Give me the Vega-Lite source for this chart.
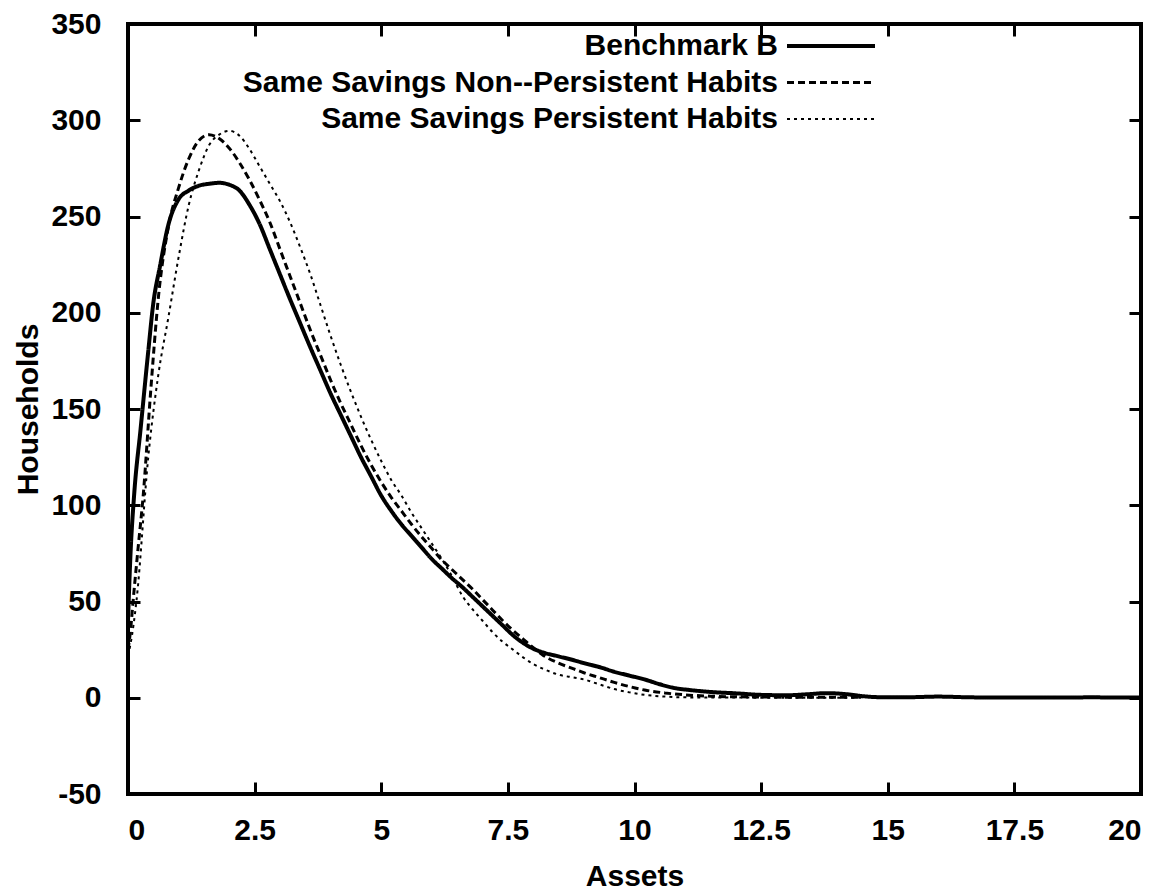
{
  "$schema": "https://vega.github.io/schema/vega-lite/v6.json",
  "width": 1013,
  "height": 770,
  "autosize": {"type": "none"},
  "padding": {"left": 128, "top": 24, "right": 26, "bottom": 100},
  "background": "white",
  "config": {
    "view": {"stroke": "black", "strokeWidth": 4},
    "font": "Liberation Sans",
    "axis": {
      "labelFont": "Liberation Sans", "labelFontWeight": "bold", "labelFontSize": 30, "labelColor": "black",
      "titleFont": "Liberation Sans", "titleFontWeight": "bold", "titleFontSize": 30, "titleColor": "black",
      "grid": false, "domain": false, "tickColor": "black", "tickWidth": 3, "tickSize": 12, "offset": -12, "zindex": 1
    }
  },
  "datasets": {
    "curves": [
      {"series":"Benchmark B","assets":0,"households":40},{"series":"Benchmark B","assets":0.05,"households":75},{"series":"Benchmark B","assets":0.12,"households":105},{"series":"Benchmark B","assets":0.25,"households":140},{"series":"Benchmark B","assets":0.4,"households":180},{"series":"Benchmark B","assets":0.5,"households":205},{"series":"Benchmark B","assets":0.63,"households":224},{"series":"Benchmark B","assets":0.8,"households":246},{"series":"Benchmark B","assets":1.0,"households":259},{"series":"Benchmark B","assets":1.2,"households":263.5},{"series":"Benchmark B","assets":1.4,"households":266},{"series":"Benchmark B","assets":1.6,"households":267},{"series":"Benchmark B","assets":1.8,"households":267.5},{"series":"Benchmark B","assets":2.0,"households":266.5},{"series":"Benchmark B","assets":2.2,"households":263.5},{"series":"Benchmark B","assets":2.4,"households":256},{"series":"Benchmark B","assets":2.6,"households":246},{"series":"Benchmark B","assets":2.8,"households":233},{"series":"Benchmark B","assets":3.0,"households":220},{"series":"Benchmark B","assets":3.2,"households":207},{"series":"Benchmark B","assets":3.4,"households":194.5},{"series":"Benchmark B","assets":3.6,"households":182},{"series":"Benchmark B","assets":3.8,"households":170},{"series":"Benchmark B","assets":4.0,"households":158},{"series":"Benchmark B","assets":4.2,"households":147},{"series":"Benchmark B","assets":4.4,"households":136},{"series":"Benchmark B","assets":4.6,"households":125},{"series":"Benchmark B","assets":4.8,"households":115},{"series":"Benchmark B","assets":5.0,"households":105},{"series":"Benchmark B","assets":5.2,"households":97},{"series":"Benchmark B","assets":5.4,"households":90},{"series":"Benchmark B","assets":5.6,"households":84},{"series":"Benchmark B","assets":5.8,"households":78},{"series":"Benchmark B","assets":6.0,"households":72},{"series":"Benchmark B","assets":6.2,"households":67},{"series":"Benchmark B","assets":6.4,"households":62},{"series":"Benchmark B","assets":6.6,"households":57.5},{"series":"Benchmark B","assets":6.8,"households":52.5},{"series":"Benchmark B","assets":7.0,"households":47.5},{"series":"Benchmark B","assets":7.2,"households":42.5},{"series":"Benchmark B","assets":7.4,"households":37.5},{"series":"Benchmark B","assets":7.6,"households":32.5},{"series":"Benchmark B","assets":7.8,"households":28.5},{"series":"Benchmark B","assets":8.0,"households":25.5},{"series":"Benchmark B","assets":8.2,"households":23.5},{"series":"Benchmark B","assets":8.5,"households":21.5},{"series":"Benchmark B","assets":8.8,"households":19.5},{"series":"Benchmark B","assets":9.0,"households":18},{"series":"Benchmark B","assets":9.3,"households":16},{"series":"Benchmark B","assets":9.6,"households":13.5},{"series":"Benchmark B","assets":9.9,"households":11.5},{"series":"Benchmark B","assets":10.2,"households":9.5},{"series":"Benchmark B","assets":10.5,"households":7},{"series":"Benchmark B","assets":10.8,"households":5},{"series":"Benchmark B","assets":11.1,"households":4},{"series":"Benchmark B","assets":11.5,"households":3},{"series":"Benchmark B","assets":12.0,"households":2.3},{"series":"Benchmark B","assets":12.5,"households":1.5},{"series":"Benchmark B","assets":13.0,"households":1.3},{"series":"Benchmark B","assets":13.4,"households":1.8},{"series":"Benchmark B","assets":13.8,"households":2.4},{"series":"Benchmark B","assets":14.2,"households":1.8},{"series":"Benchmark B","assets":14.6,"households":0.6},{"series":"Benchmark B","assets":15.0,"households":0.2},{"series":"Benchmark B","assets":15.5,"households":0.3},{"series":"Benchmark B","assets":16.0,"households":0.6},{"series":"Benchmark B","assets":16.5,"households":0.3},{"series":"Benchmark B","assets":17.0,"households":0.1},{"series":"Benchmark B","assets":18.0,"households":0.1},{"series":"Benchmark B","assets":19.0,"households":0.2},{"series":"Benchmark B","assets":20.0,"households":0.1},
      {"series":"Same Savings Non--Persistent Habits","assets":0,"households":25},{"series":"Same Savings Non--Persistent Habits","assets":0.05,"households":35},{"series":"Same Savings Non--Persistent Habits","assets":0.1,"households":50},{"series":"Same Savings Non--Persistent Habits","assets":0.2,"households":78},{"series":"Same Savings Non--Persistent Habits","assets":0.3,"households":105},{"series":"Same Savings Non--Persistent Habits","assets":0.45,"households":160},{"series":"Same Savings Non--Persistent Habits","assets":0.6,"households":208},{"series":"Same Savings Non--Persistent Habits","assets":0.8,"households":245},{"series":"Same Savings Non--Persistent Habits","assets":1.0,"households":265},{"series":"Same Savings Non--Persistent Habits","assets":1.2,"households":280},{"series":"Same Savings Non--Persistent Habits","assets":1.4,"households":289.5},{"series":"Same Savings Non--Persistent Habits","assets":1.6,"households":292.5},{"series":"Same Savings Non--Persistent Habits","assets":1.8,"households":290.5},{"series":"Same Savings Non--Persistent Habits","assets":2.0,"households":285.5},{"series":"Same Savings Non--Persistent Habits","assets":2.2,"households":278},{"series":"Same Savings Non--Persistent Habits","assets":2.4,"households":269},{"series":"Same Savings Non--Persistent Habits","assets":2.6,"households":258.5},{"series":"Same Savings Non--Persistent Habits","assets":2.8,"households":247},{"series":"Same Savings Non--Persistent Habits","assets":3.0,"households":233},{"series":"Same Savings Non--Persistent Habits","assets":3.2,"households":219},{"series":"Same Savings Non--Persistent Habits","assets":3.4,"households":205},{"series":"Same Savings Non--Persistent Habits","assets":3.6,"households":191},{"series":"Same Savings Non--Persistent Habits","assets":3.8,"households":178},{"series":"Same Savings Non--Persistent Habits","assets":4.0,"households":165},{"series":"Same Savings Non--Persistent Habits","assets":4.2,"households":153},{"series":"Same Savings Non--Persistent Habits","assets":4.4,"households":142},{"series":"Same Savings Non--Persistent Habits","assets":4.6,"households":131},{"series":"Same Savings Non--Persistent Habits","assets":4.8,"households":121},{"series":"Same Savings Non--Persistent Habits","assets":5.0,"households":112},{"series":"Same Savings Non--Persistent Habits","assets":5.2,"households":104},{"series":"Same Savings Non--Persistent Habits","assets":5.4,"households":97},{"series":"Same Savings Non--Persistent Habits","assets":5.6,"households":90},{"series":"Same Savings Non--Persistent Habits","assets":5.8,"households":83.5},{"series":"Same Savings Non--Persistent Habits","assets":6.0,"households":77.5},{"series":"Same Savings Non--Persistent Habits","assets":6.2,"households":71.5},{"series":"Same Savings Non--Persistent Habits","assets":6.4,"households":66.5},{"series":"Same Savings Non--Persistent Habits","assets":6.6,"households":61.5},{"series":"Same Savings Non--Persistent Habits","assets":6.8,"households":56.5},{"series":"Same Savings Non--Persistent Habits","assets":7.0,"households":51},{"series":"Same Savings Non--Persistent Habits","assets":7.2,"households":45.5},{"series":"Same Savings Non--Persistent Habits","assets":7.4,"households":40},{"series":"Same Savings Non--Persistent Habits","assets":7.6,"households":35},{"series":"Same Savings Non--Persistent Habits","assets":7.8,"households":30.5},{"series":"Same Savings Non--Persistent Habits","assets":8.0,"households":26},{"series":"Same Savings Non--Persistent Habits","assets":8.2,"households":22},{"series":"Same Savings Non--Persistent Habits","assets":8.5,"households":18},{"series":"Same Savings Non--Persistent Habits","assets":8.8,"households":15},{"series":"Same Savings Non--Persistent Habits","assets":9.0,"households":13},{"series":"Same Savings Non--Persistent Habits","assets":9.3,"households":10.5},{"series":"Same Savings Non--Persistent Habits","assets":9.6,"households":8},{"series":"Same Savings Non--Persistent Habits","assets":9.9,"households":5.8},{"series":"Same Savings Non--Persistent Habits","assets":10.2,"households":4},{"series":"Same Savings Non--Persistent Habits","assets":10.6,"households":2.5},{"series":"Same Savings Non--Persistent Habits","assets":11.0,"households":1.5},{"series":"Same Savings Non--Persistent Habits","assets":11.5,"households":0.8},{"series":"Same Savings Non--Persistent Habits","assets":12.0,"households":0.5},{"series":"Same Savings Non--Persistent Habits","assets":13.0,"households":0.3},{"series":"Same Savings Non--Persistent Habits","assets":14.0,"households":0.2},{"series":"Same Savings Non--Persistent Habits","assets":14.5,"households":0.2},
      {"series":"Same Savings Persistent Habits","assets":0,"households":22},{"series":"Same Savings Persistent Habits","assets":0.05,"households":28},{"series":"Same Savings Persistent Habits","assets":0.17,"households":51},{"series":"Same Savings Persistent Habits","assets":0.4,"households":125},{"series":"Same Savings Persistent Habits","assets":0.6,"households":168},{"series":"Same Savings Persistent Habits","assets":0.8,"households":198},{"series":"Same Savings Persistent Habits","assets":1.0,"households":229},{"series":"Same Savings Persistent Habits","assets":1.2,"households":256},{"series":"Same Savings Persistent Habits","assets":1.4,"households":274},{"series":"Same Savings Persistent Habits","assets":1.6,"households":287},{"series":"Same Savings Persistent Habits","assets":1.8,"households":292.5},{"series":"Same Savings Persistent Habits","assets":2.0,"households":294.5},{"series":"Same Savings Persistent Habits","assets":2.2,"households":292},{"series":"Same Savings Persistent Habits","assets":2.4,"households":285},{"series":"Same Savings Persistent Habits","assets":2.6,"households":276},{"series":"Same Savings Persistent Habits","assets":2.8,"households":267},{"series":"Same Savings Persistent Habits","assets":3.0,"households":258},{"series":"Same Savings Persistent Habits","assets":3.2,"households":247},{"series":"Same Savings Persistent Habits","assets":3.4,"households":234},{"series":"Same Savings Persistent Habits","assets":3.6,"households":220},{"series":"Same Savings Persistent Habits","assets":3.8,"households":204},{"series":"Same Savings Persistent Habits","assets":4.0,"households":188},{"series":"Same Savings Persistent Habits","assets":4.2,"households":173},{"series":"Same Savings Persistent Habits","assets":4.4,"households":159},{"series":"Same Savings Persistent Habits","assets":4.6,"households":146},{"series":"Same Savings Persistent Habits","assets":4.8,"households":134},{"series":"Same Savings Persistent Habits","assets":5.0,"households":123},{"series":"Same Savings Persistent Habits","assets":5.2,"households":113},{"series":"Same Savings Persistent Habits","assets":5.4,"households":105},{"series":"Same Savings Persistent Habits","assets":5.6,"households":96},{"series":"Same Savings Persistent Habits","assets":5.8,"households":88},{"series":"Same Savings Persistent Habits","assets":6.0,"households":80},{"series":"Same Savings Persistent Habits","assets":6.2,"households":72},{"series":"Same Savings Persistent Habits","assets":6.4,"households":63},{"series":"Same Savings Persistent Habits","assets":6.6,"households":53},{"series":"Same Savings Persistent Habits","assets":6.8,"households":46},{"series":"Same Savings Persistent Habits","assets":7.0,"households":40},{"series":"Same Savings Persistent Habits","assets":7.2,"households":34},{"series":"Same Savings Persistent Habits","assets":7.4,"households":29},{"series":"Same Savings Persistent Habits","assets":7.6,"households":25},{"series":"Same Savings Persistent Habits","assets":7.8,"households":21},{"series":"Same Savings Persistent Habits","assets":8.0,"households":17.5},{"series":"Same Savings Persistent Habits","assets":8.2,"households":15},{"series":"Same Savings Persistent Habits","assets":8.5,"households":12},{"series":"Same Savings Persistent Habits","assets":8.8,"households":10.5},{"series":"Same Savings Persistent Habits","assets":9.0,"households":9.5},{"series":"Same Savings Persistent Habits","assets":9.3,"households":7},{"series":"Same Savings Persistent Habits","assets":9.6,"households":4.5},{"series":"Same Savings Persistent Habits","assets":9.9,"households":2.8},{"series":"Same Savings Persistent Habits","assets":10.2,"households":1.5},{"series":"Same Savings Persistent Habits","assets":10.6,"households":0.6},{"series":"Same Savings Persistent Habits","assets":11.0,"households":0.2},{"series":"Same Savings Persistent Habits","assets":12.0,"households":0.1},{"series":"Same Savings Persistent Habits","assets":13.0,"households":0},{"series":"Same Savings Persistent Habits","assets":14.5,"households":0}
    ]
  },
  "data": {"name": "curves"},
  "layer": [
    {
      "mark": {"type": "line", "interpolate": "monotone", "color": "black", "strokeCap": "butt"},
      "encoding": {
        "x": {"field": "assets", "type": "quantitative", "scale": {"domain": [0, 20], "nice": false, "zero": false},
              "axis": {"orient": "bottom", "values": [0, 2.5, 5, 7.5, 10, 12.5, 15, 17.5, 20], "ticks": true, "tickColor": "#000000", "tickWidth": 3, "tickSize": 12, "offset": -12, "labelExpr": "'' + datum.value", "labelPadding": 21, "title": "Assets", "titleX": 506.5, "titleY": 94, "titleBaseline": "middle", "titleAlign": "center"}},
        "y": {"field": "households", "type": "quantitative", "scale": {"domain": [-50, 350], "nice": false, "zero": false},
              "axis": {"orient": "left", "values": [-50, 0, 50, 100, 150, 200, 250, 300, 350], "ticks": true, "tickColor": "#000000", "tickWidth": 3, "tickSize": 12, "offset": -12, "labelExpr": "'' + datum.value", "labelPadding": 27, "title": "Households", "titleX": -112, "titleY": 385, "titleBaseline": "middle", "titleAlign": "center", "titleAngle": -90}},
        "strokeDash": {"field": "series", "type": "nominal",
              "scale": {"domain": ["Benchmark B", "Same Savings Non--Persistent Habits", "Same Savings Persistent Habits"], "range": [[1, 0], [7, 4], [3, 4]]},
              "legend": {"title": null, "orient": "none", "legendX": 688, "legendY": 7, "symbolSize": 484, "symbolType": "M-4,0H4", "symbolStrokeColor": "black", "labelAlign": "right", "labelOffset": -68, "labelFontSize": 30, "labelFont": "Liberation Sans", "labelFontWeight": "bold", "labelColor": "black", "rowPadding": 6.5, "padding": 0, "labelLimit": 1000}},
        "strokeWidth": {"field": "series", "type": "nominal",
              "scale": {"domain": ["Benchmark B", "Same Savings Non--Persistent Habits", "Same Savings Persistent Habits"], "range": [4, 2, 2.8]},
              "legend": {"title": null, "orient": "none", "legendX": 688, "legendY": 7, "symbolSize": 484, "symbolType": "M-4,0H4", "symbolStrokeColor": "black", "labelAlign": "right", "labelOffset": -68, "labelFontSize": 30, "labelFont": "Liberation Sans", "labelFontWeight": "bold", "labelColor": "black", "rowPadding": 6.5, "padding": 0, "labelLimit": 1000}}
      }
    },
    {
      "mark": {"type": "point", "opacity": 0},
      "encoding": {
        "x": {"field": "assets", "type": "quantitative", "axis": {"orient": "top", "values": [0, 2.5, 5, 7.5, 10, 12.5, 15, 17.5, 20], "ticks": true, "tickColor": "#000000", "tickWidth": 3, "tickSize": 12, "offset": -12, "labels": false, "title": null}},
        "y": {"field": "households", "type": "quantitative", "axis": {"orient": "right", "values": [-50, 0, 50, 100, 150, 200, 250, 300, 350], "ticks": true, "tickColor": "#000000", "tickWidth": 3, "tickSize": 12, "offset": -12, "labels": false, "title": null}}
      }
    }
  ]
}
